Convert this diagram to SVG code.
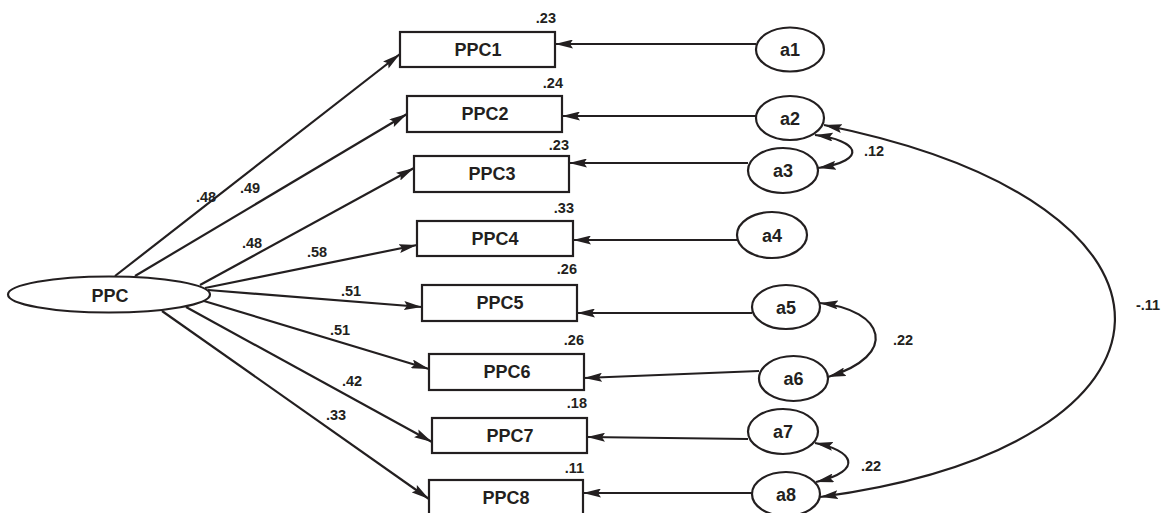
<svg xmlns="http://www.w3.org/2000/svg" width="1167" height="513" viewBox="0 0 1167 513">
<style>
.box{fill:#fff;stroke:#231f20;stroke-width:2.2}
.ell{fill:#fff;stroke:#231f20;stroke-width:2.2}
.ln{fill:none;stroke:#231f20;stroke-width:2.2}
.lbl{font-family:"Liberation Sans",Arial,sans-serif;font-weight:bold;font-size:18px;fill:#231f20;text-anchor:middle}
.val{font-family:"Liberation Sans",Arial,sans-serif;font-weight:bold;font-size:14.5px;fill:#231f20}
.vm{text-anchor:middle}
.ve{text-anchor:end}
</style>
<defs>
<marker id="ah" viewBox="0 0 18 9" refX="18" refY="4.5" markerWidth="18" markerHeight="9" markerUnits="userSpaceOnUse" orient="auto-start-reverse">
<path d="M0,0 L18,4.5 L0,9 L3,4.5 z" fill="#231f20"/>
</marker>
</defs>
<rect width="1167" height="513" fill="#fff"/>
<g id="connectors">
<line class="ln" x1="115" y1="276" x2="400" y2="54" marker-end="url(#ah)"/>
<line class="ln" x1="135" y1="276" x2="407" y2="114" marker-end="url(#ah)"/>
<line class="ln" x1="200" y1="285" x2="414" y2="168" marker-end="url(#ah)"/>
<line class="ln" x1="205" y1="288" x2="417" y2="245" marker-end="url(#ah)"/>
<line class="ln" x1="208" y1="290" x2="422" y2="307" marker-end="url(#ah)"/>
<line class="ln" x1="204" y1="301" x2="429" y2="369" marker-end="url(#ah)"/>
<line class="ln" x1="186" y1="307" x2="432" y2="442" marker-end="url(#ah)"/>
<line class="ln" x1="162" y1="311" x2="429" y2="499" marker-end="url(#ah)"/>
<line class="ln" x1="756" y1="44" x2="555" y2="44" marker-end="url(#ah)"/>
<line class="ln" x1="756" y1="116" x2="562" y2="116" marker-end="url(#ah)"/>
<line class="ln" x1="748" y1="163" x2="569" y2="163" marker-end="url(#ah)"/>
<line class="ln" x1="737" y1="240" x2="573" y2="240" marker-end="url(#ah)"/>
<line class="ln" x1="752" y1="313" x2="577" y2="313" marker-end="url(#ah)"/>
<line class="ln" x1="759" y1="371" x2="584" y2="378" marker-end="url(#ah)"/>
<line class="ln" x1="748" y1="439" x2="587" y2="437" marker-end="url(#ah)"/>
<line class="ln" x1="752" y1="493" x2="583" y2="493" marker-end="url(#ah)"/>
<path class="ln" d="M815,135 C858,140 870,160 818,168" marker-start="url(#ah)" marker-end="url(#ah)"/>
<path class="ln" d="M820,303 C885,310 900,355 828,377" marker-start="url(#ah)" marker-end="url(#ah)"/>
<path class="ln" d="M815,443 C852,450 866,470 816,482" marker-start="url(#ah)" marker-end="url(#ah)"/>
<path class="ln" d="M824,125 C1220,205 1205,445 820,497" marker-start="url(#ah)" marker-end="url(#ah)"/>
<text class="val vm" x="206" y="202">.48</text>
<text class="val vm" x="250" y="193">.49</text>
<text class="val vm" x="252" y="248">.48</text>
<text class="val vm" x="317" y="257">.58</text>
<text class="val vm" x="351" y="296">.51</text>
<text class="val vm" x="340" y="335">.51</text>
<text class="val vm" x="352" y="386">.42</text>
<text class="val vm" x="336" y="420">.33</text>
<text class="val vm" x="874" y="156">.12</text>
<text class="val vm" x="903" y="345">.22</text>
<text class="val vm" x="871" y="471">.22</text>
<text class="val vm" x="1148" y="310">-.11</text>
</g>
<g id="PPC"><ellipse class="ell" cx="109" cy="294.5" rx="101" ry="18"/><text class="lbl" x="110" y="302">PPC</text></g>
<g id="PPC1"><rect class="box" x="400" y="32" width="155" height="35"/><text class="lbl" x="478" y="56">PPC1</text><text class="val ve" x="556" y="23">.23</text></g>
<g id="PPC2"><rect class="box" x="407" y="96" width="155" height="36"/><text class="lbl" x="485" y="120">PPC2</text><text class="val ve" x="563" y="88">.24</text></g>
<g id="PPC3"><rect class="box" x="414" y="156" width="155" height="36"/><text class="lbl" x="492" y="180">PPC3</text><text class="val ve" x="569" y="150">.23</text></g>
<g id="PPC4"><rect class="box" x="417" y="221" width="156" height="35"/><text class="lbl" x="495" y="245">PPC4</text><text class="val ve" x="574" y="213">.33</text></g>
<g id="PPC5"><rect class="box" x="422" y="285" width="155" height="36"/><text class="lbl" x="500" y="309">PPC5</text><text class="val ve" x="577" y="274">.26</text></g>
<g id="PPC6"><rect class="box" x="429" y="354" width="155" height="36"/><text class="lbl" x="507" y="378">PPC6</text><text class="val ve" x="584" y="345">.26</text></g>
<g id="PPC7"><rect class="box" x="432" y="418" width="155" height="35"/><text class="lbl" x="510" y="442">PPC7</text><text class="val ve" x="587" y="408">.18</text></g>
<g id="PPC8"><rect class="box" x="429" y="480" width="154" height="36"/><text class="lbl" x="506" y="504">PPC8</text><text class="val ve" x="584" y="473">.11</text></g>
<g id="a1"><ellipse class="ell" cx="790" cy="49.5" rx="34" ry="22"/><text class="lbl" x="790" y="56">a1</text></g>
<g id="a2"><ellipse class="ell" cx="790" cy="118" rx="34" ry="22"/><text class="lbl" x="790" y="124.5">a2</text></g>
<g id="a3"><ellipse class="ell" cx="783" cy="170.5" rx="35" ry="22.5"/><text class="lbl" x="783" y="177">a3</text></g>
<g id="a4"><ellipse class="ell" cx="772" cy="235" rx="35" ry="23"/><text class="lbl" x="772" y="241.5">a4</text></g>
<g id="a5"><ellipse class="ell" cx="786" cy="307" rx="34" ry="22"/><text class="lbl" x="786" y="313.5">a5</text></g>
<g id="a6"><ellipse class="ell" cx="793.5" cy="378.5" rx="34.5" ry="22.5"/><text class="lbl" x="793.5" y="385">a6</text></g>
<g id="a7"><ellipse class="ell" cx="783" cy="431.5" rx="35" ry="22.5"/><text class="lbl" x="783" y="438">a7</text></g>
<g id="a8"><ellipse class="ell" cx="786" cy="494" rx="34" ry="22"/><text class="lbl" x="786" y="500.5">a8</text></g>
</svg>
